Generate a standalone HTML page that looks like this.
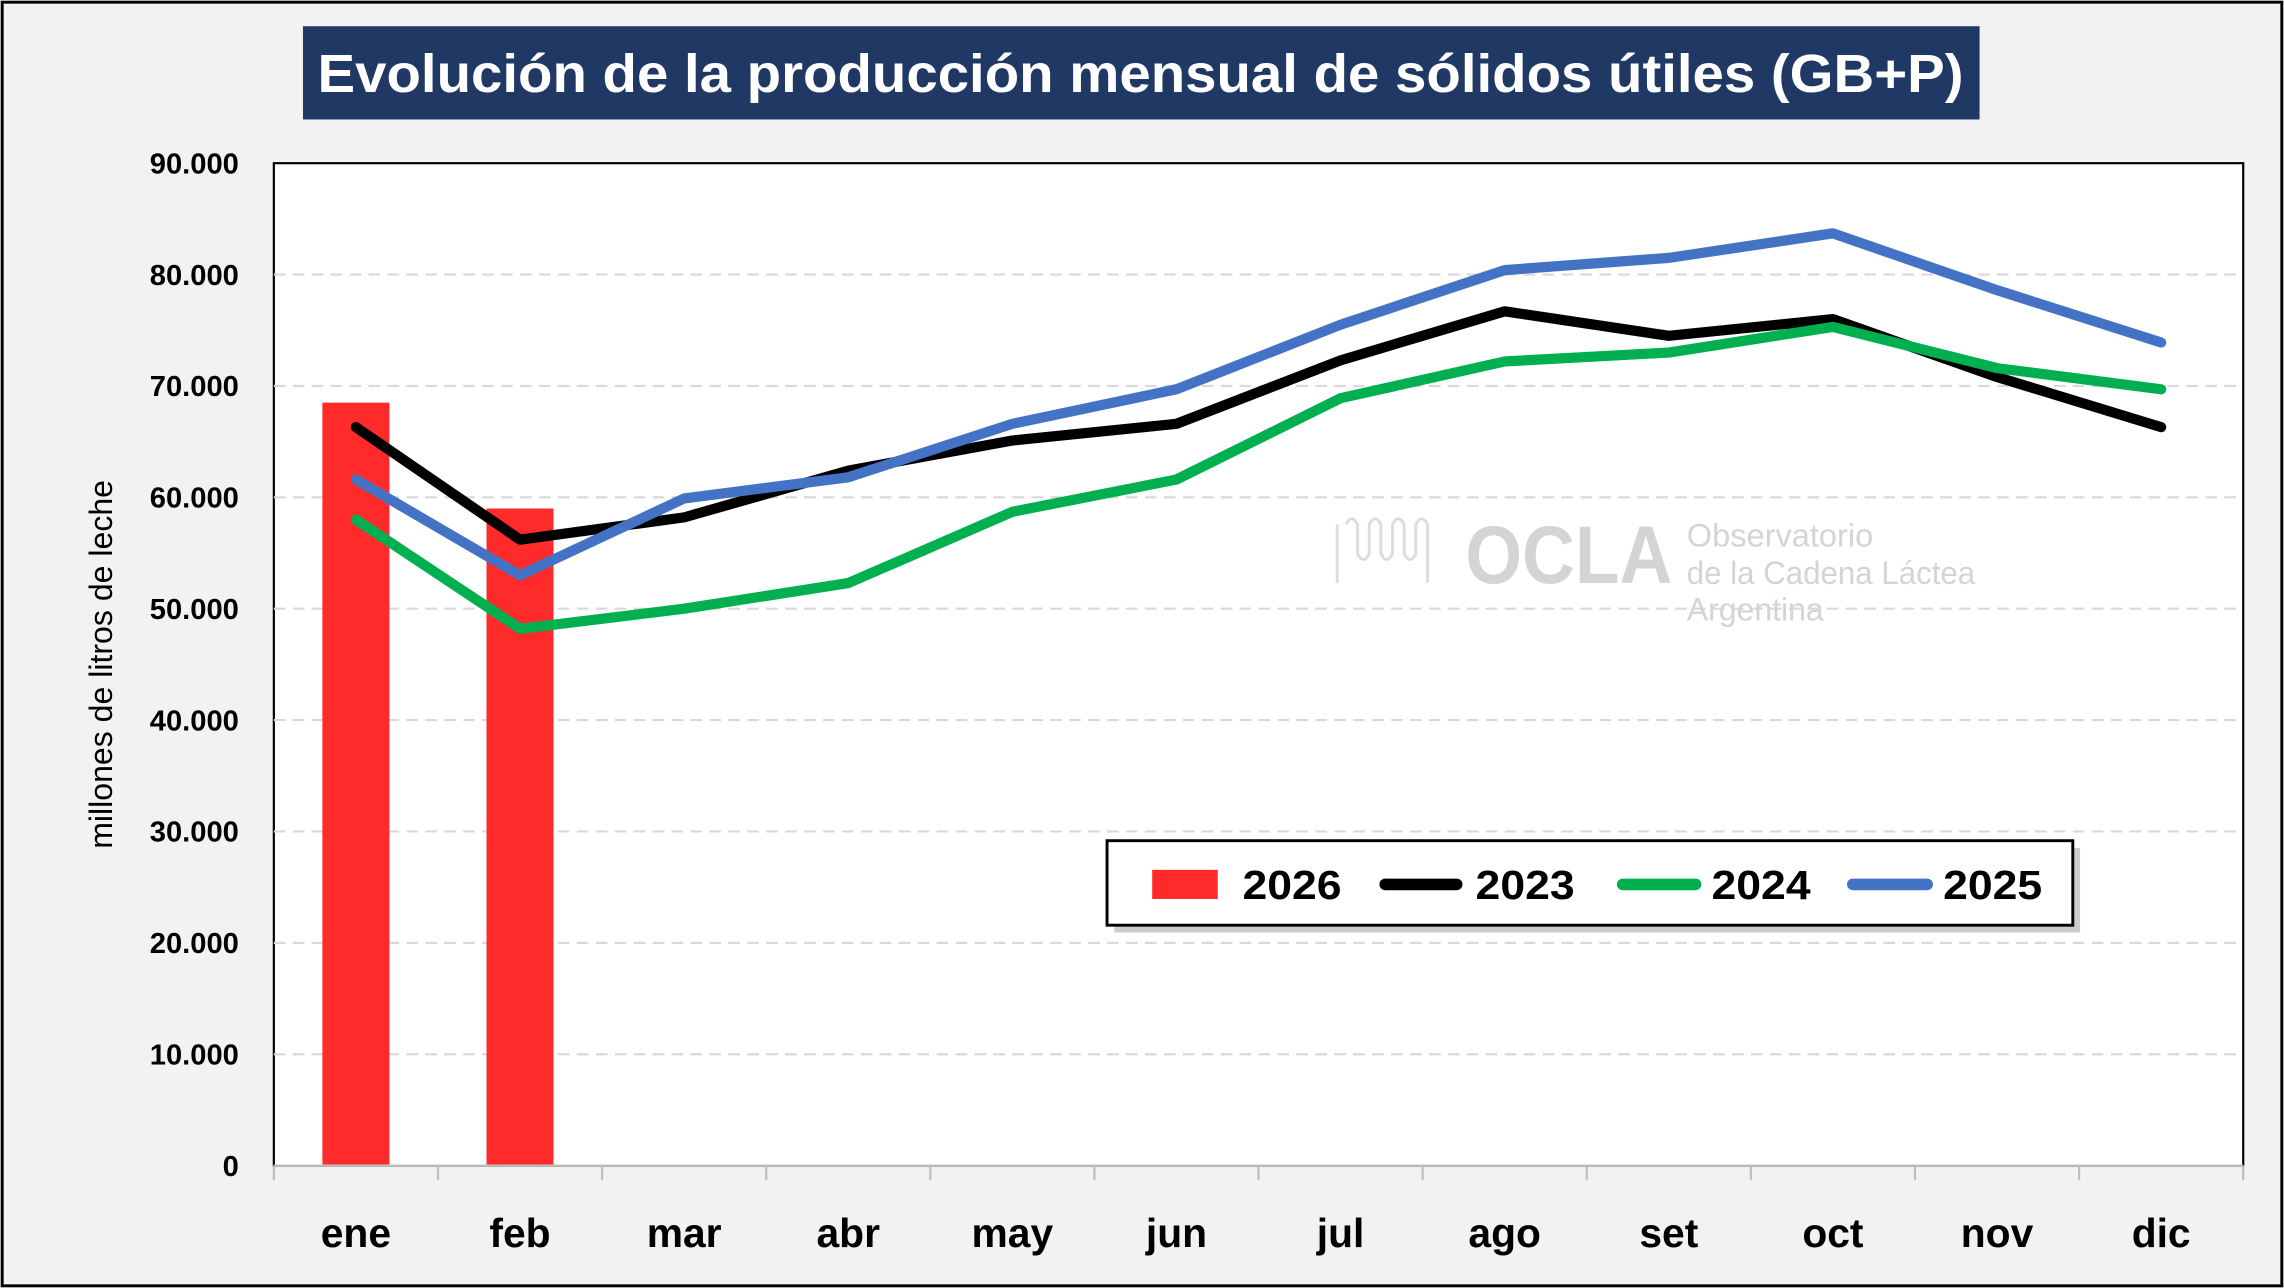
<!DOCTYPE html>
<html><head><meta charset="utf-8"><style>
html,body{margin:0;padding:0;background:#f2f2f2;}
svg{display:block;font-family:"Liberation Sans",sans-serif;}
</style></head><body>
<svg id="chart" width="2284" height="1288" viewBox="0 0 1568 884" preserveAspectRatio="none" xmlns="http://www.w3.org/2000/svg">
<rect x="1.5" y="1.5" width="1565" height="881" fill="#f2f2f2" stroke="#000" stroke-width="2"/>
<rect x="208" y="18" width="1151" height="64" fill="#203864"/>
<text x="783" y="63" text-anchor="middle" fill="#fff" font-size="37" font-weight="bold" textLength="1130" lengthAdjust="spacingAndGlyphs">Evolución de la producción mensual de sólidos útiles (GB+P)</text>
<rect x="188" y="112" width="1352" height="688" fill="#fff" stroke="#000" stroke-width="1.5"/>
<g id="grid"></g>
<g id="watermark" fill="#d4d4d4">
<path d="M918 360 v40 M924 360 q4 -8 8 0 v20 q4 8 8 0 v-20 q4 -8 8 0 v20 q4 8 8 0 v-20 q4 -8 8 0 v20 q4 8 8 0 v-20 q4 -8 8 0 v40" fill="none" stroke="#dcdcdc" stroke-width="2"/>
<text x="1006" y="400" font-size="56" font-weight="bold" textLength="142" lengthAdjust="spacingAndGlyphs">OCLA</text>
<text x="1158" y="375" font-size="22" textLength="128" lengthAdjust="spacingAndGlyphs">Observatorio</text>
<text x="1158" y="401" font-size="22" textLength="198" lengthAdjust="spacingAndGlyphs">de la Cadena Láctea</text>
<text x="1158" y="426" font-size="22" textLength="94" lengthAdjust="spacingAndGlyphs">Argentina</text>
</g>
<g id="bars"></g>
<g id="lines"></g>
<g id="axes"></g>
<text transform="translate(77,456) rotate(-90)" text-anchor="middle" font-size="22">millones de litros de leche</text>
<g>
<rect x="762" y="579" width="663" height="58" fill="#9a9a9a" opacity="0.5" transform="translate(3,3)"/>
<rect x="760" y="577" width="663" height="58" fill="#fff" stroke="#000" stroke-width="2"/>
<rect x="791" y="597" width="45" height="20" fill="#ff2a2a"/>
<text x="853" y="617" font-size="28" font-weight="bold" textLength="68" lengthAdjust="spacingAndGlyphs">2026</text>
<line x1="951" y1="607" x2="1000" y2="607" stroke="#000" stroke-width="8" stroke-linecap="round"/>
<text x="1013" y="617" font-size="28" font-weight="bold" textLength="68" lengthAdjust="spacingAndGlyphs">2023</text>
<line x1="1114" y1="607" x2="1164" y2="607" stroke="#00b050" stroke-width="8" stroke-linecap="round"/>
<text x="1175" y="617" font-size="28" font-weight="bold" textLength="68" lengthAdjust="spacingAndGlyphs">2024</text>
<line x1="1272" y1="607" x2="1323" y2="607" stroke="#4472c4" stroke-width="8" stroke-linecap="round"/>
<text x="1334" y="617" font-size="28" font-weight="bold" textLength="68" lengthAdjust="spacingAndGlyphs">2025</text>
</g>
</svg>
<script>
const categories=["ene","feb","mar","abr","may","jun","jul","ago","set","oct","nov","dic"];
const bar2026=[68.5,59.0];
const s2023=[66.3,56.2,58.2,62.4,65.1,66.6,72.3,76.7,74.5,76.0,70.8,66.3];
const s2024=[58.0,48.2,50.0,52.3,58.7,61.6,68.9,72.2,73.0,75.3,71.6,69.7];
const s2025=[61.6,53.0,59.9,61.8,66.6,69.7,75.5,80.4,81.5,83.7,78.6,73.9];
const yTicks=["0","10.000","20.000","30.000","40.000","50.000","60.000","70.000","80.000","90.000"];
const NS="http://www.w3.org/2000/svg";
const L=188,R=1540,T=112,B=800,YMAX=90;
const step=(R-L)/categories.length;
const x=i=>L+step*(i+0.5);
const y=v=>B-(v/YMAX)*(B-T);
function mk(t,a,p){const e=document.createElementNS(NS,t);for(const k in a)e.setAttribute(k,a[k]);p.appendChild(e);return e;}
const grid=document.getElementById('grid'),axes=document.getElementById('axes');
yTicks.forEach((lab,i)=>{const v=i*10,yy=y(v);
 if(i>0&&i<yTicks.length-1){const g=mk('line',{x1:L,x2:R,y1:yy,y2:yy,stroke:'#d9d9d9','stroke-width':1.5,'stroke-dasharray':'8,5'},grid);
 
 }
 const t=mk('text',{x:164,y:yy+7,'text-anchor':'end','font-size':20,'font-weight':'bold'},axes);t.textContent=lab;
 
 
});
mk('line',{x1:L,x2:R,y1:B,y2:B,stroke:'#bfbfbf','stroke-width':1.5},axes);
categories.forEach((c,i)=>{
 const tk=mk('line',{x1:L+step*i,x2:L+step*i,y1:B,y2:B+10,stroke:'#bfbfbf','stroke-width':1.5},axes);
 
 
 const t=mk('text',{x:x(i),y:856,'text-anchor':'middle','font-size':28,'font-weight':'bold'},axes);t.textContent=c;
 
 
});
mk('line',{x1:R,x2:R,y1:B,y2:B+10,stroke:'#bfbfbf','stroke-width':1.5},axes);
const bars=document.getElementById('bars');
bar2026.forEach((v,i)=>{const r=mk('rect',{x:x(i)-23,y:y(v),width:46,height:B-y(v),fill:'#ff2a2a'},bars);
 
 });
const lines=document.getElementById('lines');
[[s2023,'#000','2023'],[s2024,'#00b050','2024'],[s2025,'#4472c4','2025']].forEach(([s,c,n])=>{
 const p=mk('polyline',{points:s.map((v,i)=>x(i)+','+y(v)).join(' '),fill:'none',stroke:c,'stroke-width':7,'stroke-linejoin':'round','stroke-linecap':'round'},lines);
 
 
});
</script>
</body></html>
